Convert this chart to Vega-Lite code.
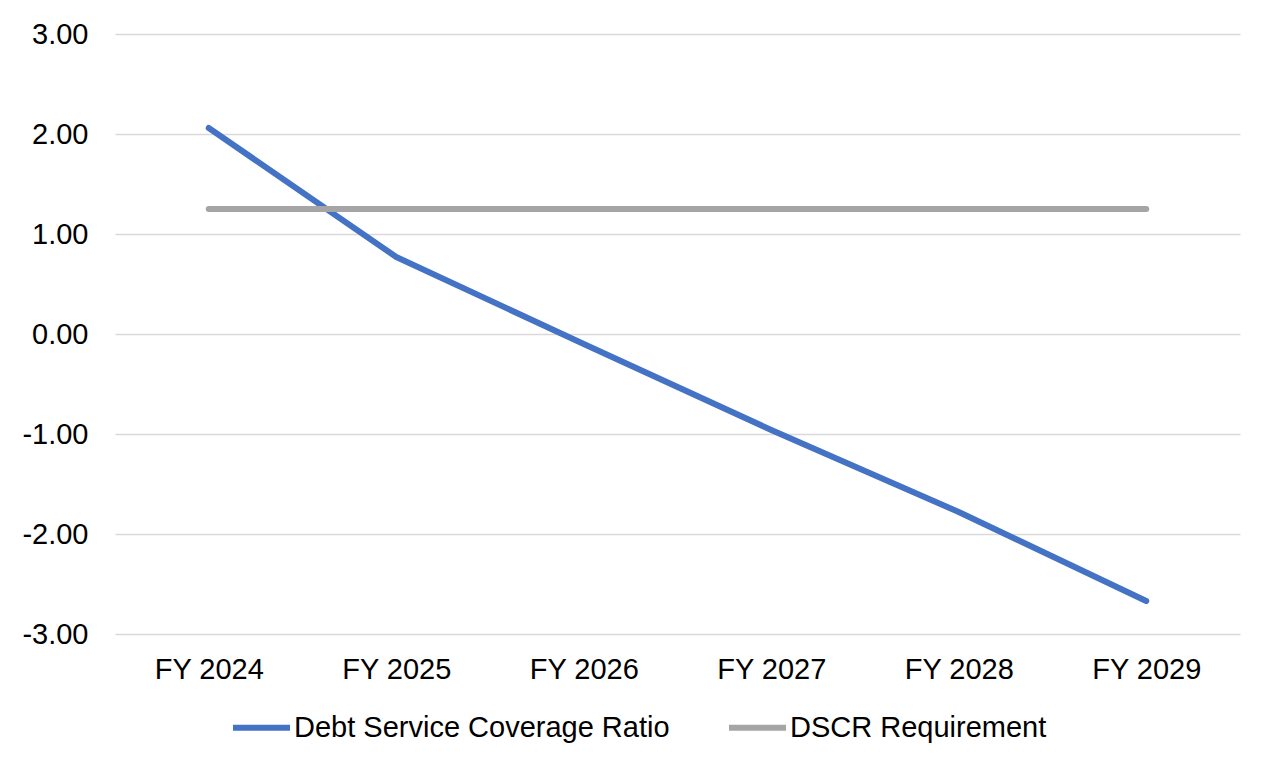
{
  "$schema": "https://vega.github.io/schema/vega-lite/v6.json",
  "width": 1125,
  "height": 600,
  "autosize": {"type": "none"},
  "padding": {"left": 115, "top": 34, "right": 27, "bottom": 131},
  "background": "white",
  "data": {
    "values": [
      {"year": "FY 2024", "series": "Debt Service Coverage Ratio", "value": 2.06},
      {"year": "FY 2025", "series": "Debt Service Coverage Ratio", "value": 0.77},
      {"year": "FY 2026", "series": "Debt Service Coverage Ratio", "value": -0.10},
      {"year": "FY 2027", "series": "Debt Service Coverage Ratio", "value": -0.96},
      {"year": "FY 2028", "series": "Debt Service Coverage Ratio", "value": -1.78},
      {"year": "FY 2029", "series": "Debt Service Coverage Ratio", "value": -2.67},
      {"year": "FY 2024", "series": "DSCR Requirement", "value": 1.25},
      {"year": "FY 2025", "series": "DSCR Requirement", "value": 1.25},
      {"year": "FY 2026", "series": "DSCR Requirement", "value": 1.25},
      {"year": "FY 2027", "series": "DSCR Requirement", "value": 1.25},
      {"year": "FY 2028", "series": "DSCR Requirement", "value": 1.25},
      {"year": "FY 2029", "series": "DSCR Requirement", "value": 1.25}
    ]
  },
  "mark": {"type": "line", "strokeWidth": 6, "strokeCap": "round", "strokeJoin": "round"},
  "encoding": {
    "x": {
      "field": "year",
      "type": "ordinal",
      "scale": {"type": "point", "padding": 0.5},
      "axis": {
        "title": null,
        "labelAngle": 0,
        "labelFont": "Liberation Sans",
        "labelFontSize": 29,
        "labelColor": "#000000",
        "labelPadding": 21,
        "ticks": false,
        "domain": false,
        "grid": false
      }
    },
    "y": {
      "field": "value",
      "type": "quantitative",
      "scale": {"domain": [-3, 3], "nice": false, "zero": false},
      "axis": {
        "title": null,
        "values": [-3, -2, -1, 0, 1, 2, 3],
        "format": ".2f",
        "labelExpr": "replace(datum.label, '\u2212', '-')",
        "labelFont": "Liberation Sans",
        "labelFontSize": 29,
        "labelColor": "#000000",
        "labelPadding": 27,
        "ticks": false,
        "domain": false,
        "grid": true,
        "gridColor": "#D9D9D9",
        "gridWidth": 1.5
      }
    },
    "color": {
      "field": "series",
      "type": "nominal",
      "scale": {
        "domain": ["Debt Service Coverage Ratio", "DSCR Requirement"],
        "range": ["#4472C4", "#A5A5A5"]
      },
      "legend": {
        "title": null,
        "orient": "none",
        "direction": "horizontal",
        "legendX": 115,
        "legendY": 662,
        "symbolType": "stroke",
        "symbolSize": 3249,
        "symbolStrokeWidth": 6,
        "labelFont": "Liberation Sans",
        "labelFontSize": 29,
        "labelColor": "#000000",
        "labelOffset": 1,
        "columnPadding": 47,
        "labelLimit": 600
      }
    }
  },
  "config": {"view": {"stroke": null}}
}
